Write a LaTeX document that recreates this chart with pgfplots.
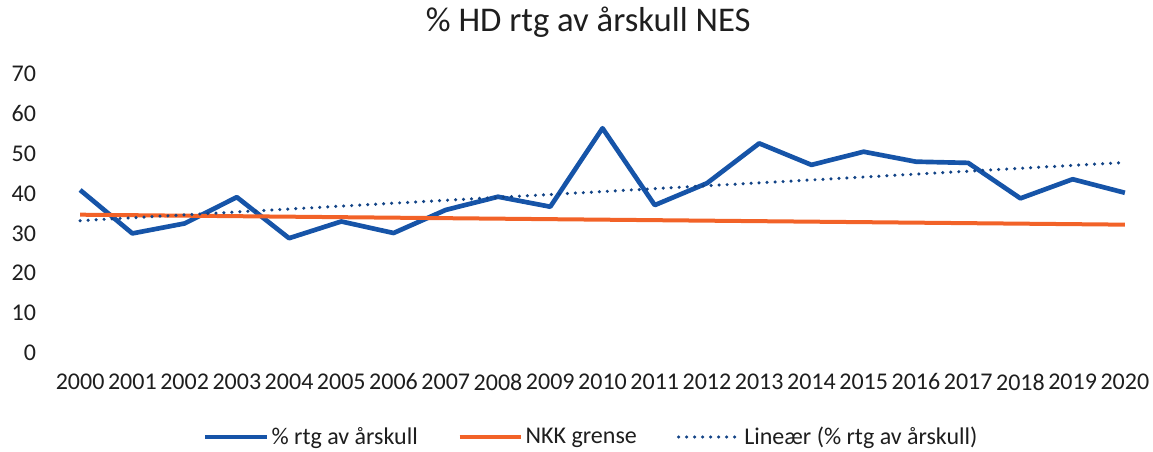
\documentclass[border=0pt]{standalone}
\usepackage{pgfplots}
\pgfplotsset{compat=1.18}
\usepackage{fontspec}
\setmainfont{Carlito}
\definecolor{serblue}{RGB}{22,84,168}
\definecolor{serorange}{RGB}{242,98,40}
\definecolor{txt}{RGB}{30,30,30}
\begin{document}
\begin{tikzpicture}
\useasboundingbox (-40.5pt,-74.25pt) rectangle (824.25pt,264.75pt);
\begin{axis}[
  scale only axis,
  width=822.75pt, height=209.25pt,
  xmin=-0.5, xmax=20.5, ymin=0, ymax=70,
  xtick={0,...,20},
  xticklabels={2000,2001,2002,2003,2004,2005,2006,2007,2008,2009,2010,2011,2012,2013,2014,2015,2016,2017,2018,2019,2020},
  ytick={0,10,...,70},
  axis line style={draw=none},
  tick style={draw=none},
  /pgf/number format/assume math mode=true,
  ticklabel style={font=\fontsize{18}{20}\selectfont, text=txt},
  yticklabel style={xshift=-10pt},
  xticklabel style={yshift=-12pt},
  title={\% HD rtg av årskull NES},
  title style={at={(0.487,1)}, anchor=center, yshift=33pt, font=\fontsize{26}{30}\selectfont, text=txt},
  legend style={at={(0.49,0)}, anchor=center, yshift=-63pt, draw=none, legend columns=3,
    font=\fontsize{18}{20}\selectfont, text=txt,
    /tikz/every even column/.append style={column sep=28pt}},
  legend cell align=left,
  legend image code/.code={\draw[#1] (0pt,0pt) -- (46pt,0pt);},
]
\addplot[serblue, line width=3.5pt, line join=round] coordinates {
(0,40.9) (1,30.0) (2,32.5) (3,39.1) (4,28.8) (5,33.0) (6,30.1) (7,35.9) (8,39.2) (9,36.7)
(10,56.4) (11,37.1) (12,42.6) (13,52.6) (14,47.2) (15,50.5) (16,48.0) (17,47.7) (18,38.8) (19,43.6) (20,40.2)};
\addlegendentry{\% rtg av årskull}
\addplot[serorange, line width=3pt] coordinates {(0,34.7) (20,32.2)};
\addlegendentry{NKK grense}
\addplot[serblue!80!black, line width=2.6pt, line cap=round, dash pattern=on 0pt off 6pt] coordinates {(0,33.2) (20,47.8)};
\addlegendentry{Lineær (\% rtg av årskull)}
\end{axis}
\end{tikzpicture}
\end{document}
